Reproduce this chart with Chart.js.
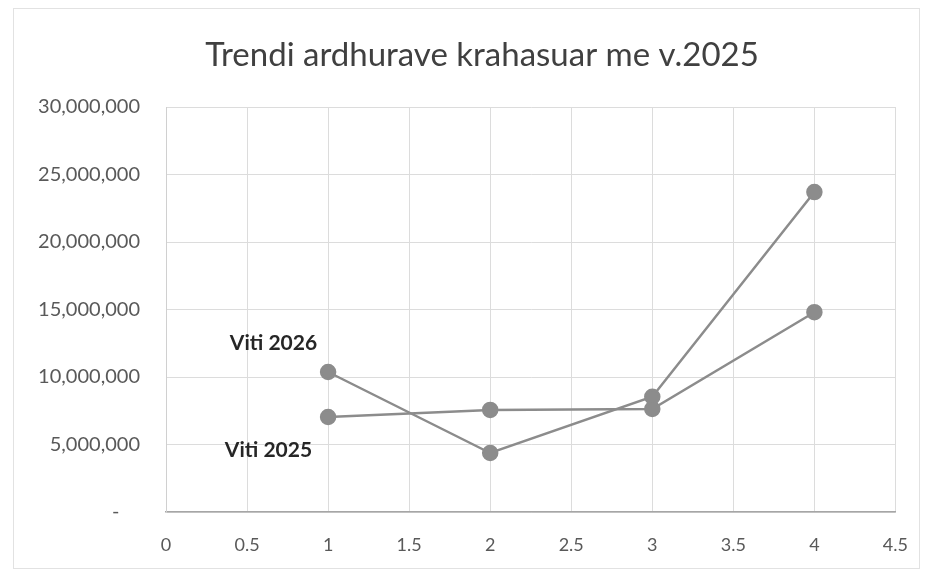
<!DOCTYPE html>
<html>
<head>
<meta charset="utf-8">
<script src="https://cdn.jsdelivr.net/npm/chart.js@4.4.1/dist/chart.umd.min.js"></script>
<style>
  body { margin: 0; background: #fff; }
  #wrap { width: 930px; height: 574px; }
</style>
</head>
<body>
<div id="wrap"><canvas id="trendChart" width="930" height="574"></canvas></div>
<script>
// values
const xValues = [1, 2, 3, 4];
const viti2026 = [10370000, 4370000, 8540000, 23700000];
const viti2025 = [7040000, 7560000, 7630000, 14800000];
const seriesNames = ['Viti 2026', 'Viti 2025'];
const chartTitle = 'Trendi ardhurave krahasuar me v.2025';

const grey = '#8c8c8c';
const fontFamily = 'Lato, "Liberation Sans", sans-serif';

function toPoints(ys) {
    return xValues.map((x, i) => ({ x: x, y: ys[i] }));
}

// title drawn by hand so it can sit where Excel put it
const titlePlugin = {
    id: 'titlePlugin',
    afterDraw(chart) {
        const ctx = chart.ctx;
        ctx.save();
        ctx.font = '33px ' + fontFamily;
        ctx.fillStyle = '#404040';
        ctx.textAlign = 'center';
        ctx.textBaseline = 'middle';
        ctx.fillText(chartTitle, 482, 55);
        ctx.restore();
    }
};

// series name labels next to the first point of each line
const nameLabels = {
    id: 'nameLabels',
    afterDatasetsDraw(chart) {
        const ctx = chart.ctx;
        const offsets = [{ dx: -11, dy: -29 }, { dx: -16, dy: 33 }];
        ctx.save();
        ctx.font = 'bold 21px ' + fontFamily;
        ctx.fillStyle = '#262626';
        ctx.textAlign = 'right';
        ctx.textBaseline = 'middle';
        chart.data.datasets.forEach((ds, i) => {
            const pt = chart.getDatasetMeta(i).data[0];
            ctx.fillText(ds.label, pt.x + offsets[i].dx, pt.y + offsets[i].dy);
        });
        ctx.restore();
    }
};

// faint frame round the whole chart
const frame = {
    id: 'frame',
    beforeDraw(chart) {
        const ctx = chart.ctx;
        ctx.save();
        ctx.strokeStyle = '#e2e2e2';
        ctx.lineWidth = 1;
        ctx.strokeRect(13.5, 8.5, 906, 560);
        ctx.restore();
    }
};

const ctx = document.getElementById('trendChart').getContext('2d');
new Chart(ctx, {
    type: 'scatter',
    data: {
        datasets: [
            {
                label: seriesNames[0],
                data: toPoints(viti2026),
                showLine: true,
                borderColor: grey,
                backgroundColor: grey,
                borderWidth: 2.5,
                pointRadius: 7,
                pointHoverRadius: 7
            },
            {
                label: seriesNames[1],
                data: toPoints(viti2025),
                showLine: true,
                borderColor: grey,
                backgroundColor: grey,
                borderWidth: 2.5,
                pointRadius: 7,
                pointHoverRadius: 7
            }
        ]
    },
    options: {
        responsive: false,
        animation: false,
        layout: { padding: { left: 14, right: 31, top: 107, bottom: 10 } },
        plugins: {
            legend: { display: false },
            tooltip: { enabled: false },
            title: { display: false }
        },
        scales: {
            x: {
                type: 'linear',
                min: 0,
                max: 4.5,
                ticks: {
                    stepSize: 0.5,
                    padding: 22,
                    color: '#595959',
                    font: { family: fontFamily, size: 18 },
                    callback: v => String(v)
                },
                grid: { color: '#dcdcdc', drawTicks: false },
                border: { color: '#a6a6a6', width: 1.5 },
                afterFit(scale) { scale.height = 52; }
            },
            y: {
                min: 0,
                max: 30000000,
                ticks: {
                    stepSize: 5000000,
                    padding: 26,
                    color: '#595959',
                    font: { family: fontFamily, size: 20 },
                    callback: v => v === 0 ? '-    ' : v.toLocaleString('en-US')
                },
                grid: { color: '#dcdcdc', drawTicks: false },
                border: { color: '#d0d0d0' },
                afterFit(scale) { scale.width = 152; }
            }
        }
    },
    plugins: [frame, nameLabels, titlePlugin]
});
</script>
</body>
</html>
